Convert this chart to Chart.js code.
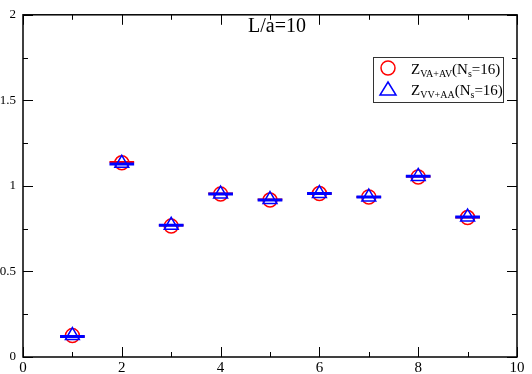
<!DOCTYPE html>
<html>
<head>
<meta charset="utf-8">
<script src="https://cdn.jsdelivr.net/npm/chart.js@4"></script>
<style>
body { margin: 0; background: #fff; }
</style>
</head>
<body>
<canvas id="myCanvas" width="532" height="374"></canvas>
<script>
let xValues = [1, 2, 3, 4, 5, 6, 7, 8, 9]
let zVaAv = [0.125, 1.135, 0.765, 0.952, 0.917, 0.955, 0.935, 1.052, 0.815]
let zVvAa = [0.125, 1.132, 0.77, 0.952, 0.92, 0.955, 0.935, 1.055, 0.818]
let fitVaAv = [0.12, 1.14, 0.77, 0.955, 0.92, 0.955, 0.935, 1.055, 0.815]
let fitVvAa = [0.12, 1.128, 0.77, 0.952, 0.918, 0.955, 0.935, 1.057, 0.818]
let xTicks = [0, 2, 4, 6, 8, 10]
let yTicks = [0, 0.5, 1, 1.5, 2]
let title = "L/a=10"

const serif = "'Liberation Serif', serif"

function points(ys) {
    return xValues.map((x, i) => ({ x: x, y: ys[i] }))
}

// short horizontal bars at each x, broken by null gaps
function segments(ys) {
    let out = []
    xValues.forEach((x, i) => {
        out.push({ x: x - 0.25, y: ys[i] })
        out.push({ x: x + 0.25, y: ys[i] })
        out.push({ x: x + 0.5, y: null })
    })
    return out
}

const framePlugin = {
    id: "frame",
    afterDraw(chart) {
        const ctx = chart.ctx
        const a = chart.chartArea
        const xs = chart.scales.x
        const ys = chart.scales.y
        ctx.save()
        ctx.strokeStyle = "#000"
        ctx.lineWidth = 1.5
        ctx.strokeRect(a.left, a.top, a.right - a.left, a.bottom - a.top)
        ctx.lineWidth = 1
        ctx.beginPath()
        for (let v = 0; v <= 10; v += 1) {
            const p = Math.round(xs.getPixelForValue(v)) + 0.5
            const len = v % 2 === 0 ? 10 : 5
            ctx.moveTo(p, a.bottom); ctx.lineTo(p, a.bottom - len)
            ctx.moveTo(p, a.top); ctx.lineTo(p, a.top + len)
        }
        for (let v = 0; v <= 2.001; v += 0.25) {
            const p = Math.round(ys.getPixelForValue(v)) + 0.5
            const len = Math.abs(v * 2 - Math.round(v * 2)) < 0.01 ? 10 : 5
            ctx.moveTo(a.left, p); ctx.lineTo(a.left + len, p)
            ctx.moveTo(a.right, p); ctx.lineTo(a.right - len, p)
        }
        ctx.stroke()

        // title inside the plot
        ctx.fillStyle = "#000"
        ctx.font = "20px " + serif
        ctx.textAlign = "center"
        ctx.textBaseline = "alphabetic"
        ctx.fillText(title, 277, 32)

        // legend
        const bx = 373, by = 57, bw = 130, bh = 45
        ctx.fillStyle = "#fff"
        ctx.fillRect(bx, by, bw, bh)
        ctx.strokeStyle = "#333"
        ctx.lineWidth = 1
        ctx.strokeRect(bx + 0.5, by + 0.5, bw, bh)

        ctx.strokeStyle = "#ff0000"
        ctx.lineWidth = 1.5
        ctx.beginPath()
        ctx.arc(388, 68, 7, 0, Math.PI * 2)
        ctx.stroke()

        ctx.strokeStyle = "#0000ff"
        ctx.beginPath()
        ctx.moveTo(388, 82)
        ctx.lineTo(396, 95)
        ctx.lineTo(380, 95)
        ctx.closePath()
        ctx.stroke()

        ctx.fillStyle = "#000"
        ctx.textAlign = "left"
        const labels = [["VA+AV", 74], ["VV+AA", 95]]
        labels.forEach(([sub, base]) => {
            let x = 411
            const part = (txt, size, dy) => {
                ctx.font = size + "px " + serif
                ctx.fillText(txt, x, base + dy)
                x += ctx.measureText(txt).width
            }
            part("Z", 15, 0)
            part(sub, 10, 3)
            part("(N", 15, 0)
            part("s", 10, 3)
            part("=16)", 15, 0)
        })
        ctx.restore()
    }
}

new Chart("myCanvas", {
    type: "scatter",
    data: {
        datasets: [
            {
                data: points(zVaAv),
                pointStyle: "circle",
                pointRadius: 7,
                borderColor: "#ff0000",
                backgroundColor: "rgba(0,0,0,0)",
                borderWidth: 1.5,
                order: 4
            },
            {
                data: segments(fitVaAv),
                showLine: true,
                spanGaps: false,
                pointRadius: 0,
                borderColor: "#ff0000",
                borderWidth: 2,
                order: 3
            },
            {
                data: points(zVvAa),
                pointStyle: "triangle",
                pointRadius: 8,
                borderColor: "#0000ff",
                backgroundColor: "rgba(0,0,0,0)",
                borderWidth: 1.5,
                order: 2
            },
            {
                data: segments(fitVvAa),
                showLine: true,
                spanGaps: false,
                pointRadius: 0,
                borderColor: "#0000ff",
                borderWidth: 3,
                order: 1
            }
        ]
    },
    options: {
        responsive: false,
        animation: false,
        layout: { padding: { top: 7, right: 15, left: 0, bottom: 0 } },
        plugins: {
            legend: { display: false },
            tooltip: { enabled: false }
        },
        scales: {
            x: {
                type: "linear",
                min: 0,
                max: 10,
                afterFit: (s) => { s.height = 17 },
                afterBuildTicks: (s) => { s.ticks = xTicks.map(v => ({ value: v })) },
                grid: { display: false, drawTicks: false },
                border: { display: false },
                ticks: {
                    padding: 2, color: "#000", font: { family: serif, size: 15 },
                    callback: (v) => String(v)
                }
            },
            y: {
                type: "linear",
                min: 0,
                max: 2,
                afterFit: (s) => { s.width = 23 },
                afterBuildTicks: (s) => { s.ticks = yTicks.map(v => ({ value: v })) },
                grid: { display: false, drawTicks: false },
                border: { display: false },
                ticks: {
                    padding: 7, color: "#000", font: { family: serif, size: 13 },
                    callback: (v) => String(v)
                }
            }
        }
    },
    plugins: [framePlugin]
})
</script>
</body>
</html>
